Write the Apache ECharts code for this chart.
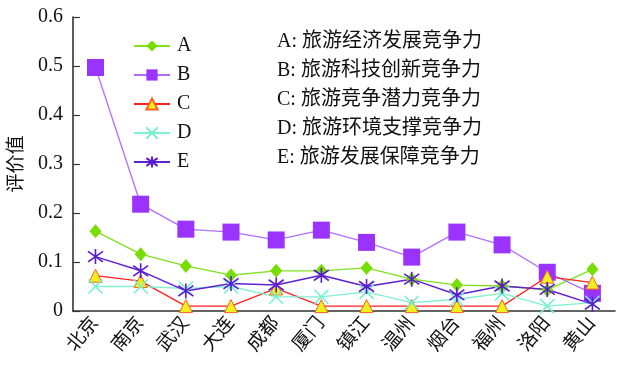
<!DOCTYPE html>
<html><head><meta charset="utf-8">
<script src="https://cdn.jsdelivr.net/npm/echarts@6/dist/echarts.min.js"></script>
<style>html,body{margin:0;padding:0;background:#fff}#c{width:625px;height:368px}</style>
</head><body><div id="c"></div>
<script>
const categories = ['北京','南京','武汉','大连','成都','厦门','镇江','温州','烟台','福州','洛阳','黄山'];
const seriesA = [0.163,0.116,0.092,0.073,0.082,0.082,0.088,0.065,0.053,0.051,0.043,0.085];
const seriesB = [0.497,0.218,0.167,0.161,0.145,0.165,0.140,0.110,0.161,0.135,0.079,0.036];
const seriesC = [0.072,0.061,0.010,0.010,0.046,0.010,0.010,0.010,0.010,0.010,0.070,0.058];
const seriesD = [0.050,0.050,0.046,0.050,0.029,0.029,0.039,0.017,0.024,0.036,0.010,0.017];
const seriesE = [0.111,0.082,0.041,0.056,0.053,0.073,0.050,0.065,0.033,0.051,0.044,0.014];
const seriesNames = ['A','B','C','D','E'];
const descriptions = ['A: 旅游经济发展竞争力','B: 旅游科技创新竞争力','C: 旅游竞争潜力竞争力','D: 旅游环境支撑竞争力','E: 旅游发展保障竞争力'];
const yTicks = ['0','0.1','0.2','0.3','0.4','0.5','0.6'];
const yName = '评价值';

const serif = '"Liberation Serif","Times New Roman","Noto Sans CJK SC",serif';
const chart = echarts.init(document.getElementById('c'));
const crossPath = 'path://M0,0L10,10M10,0L0,10';
const starPath = 'path://M0,1.5L10,8.5M10,1.5L0,8.5M5,0L5,10';
const base = {type:'line', symbolKeepAspect:false, z:2};
const series = [
  Object.assign({}, base, {name:'A', data:seriesA, symbol:'diamond', symbolSize:[12,14],
    lineStyle:{color:'#80e020',width:1.3}, itemStyle:{color:'#78dd00'}}),
  Object.assign({}, base, {name:'B', data:seriesB, symbol:'rect', symbolSize:17,
    lineStyle:{color:'#b070ff',width:1.3}, itemStyle:{color:'#9b33ff'}}),
  Object.assign({}, base, {name:'C', data:seriesC, symbol:'triangle', symbolSize:[13,13],
    lineStyle:{color:'#ff2020',width:1.3}, itemStyle:{color:'#f0f020',borderColor:'#ff6020',borderWidth:1}}),
  Object.assign({}, base, {name:'D', data:seriesD, symbol:crossPath, symbolSize:14,
    lineStyle:{color:'#7ff0d0',width:1.3}, itemStyle:{color:'none',borderColor:'#70f0d0',borderWidth:1.5}}),
  Object.assign({}, base, {name:'E', data:seriesE, symbol:starPath, symbolSize:15,
    lineStyle:{color:'#6020d0',width:1.5}, itemStyle:{color:'none',borderColor:'#5a1ad0',borderWidth:1.6}})
];
const graphics = descriptions.map((t,i)=>({
  type:'text', left:277, top:32 + i*29,
  style:{text:t, font:'20px '+serif, fill:'#111'}
}));
chart.setOption({
  animation:false,
  backgroundColor:'#fff',
  grid:{left:62, right:10, top:17, bottom:57, containLabel:false},
  legend:{
    orient:'vertical', left:128, top:31, itemWidth:36, itemHeight:14, itemGap:9,
    data:seriesNames, textStyle:{fontFamily:serif, fontSize:20, color:'#111', padding:[0,0,0,2]},
    selectedMode:false
  },
  graphic:graphics,
  xAxis:{
    type:'category', data:categories, boundaryGap:true,
    axisLine:{lineStyle:{color:'#333',width:1.6}},
    axisTick:{inside:true, length:7, lineStyle:{color:'#333',width:1.2}},
    axisLabel:{rotate:50, interval:0, fontFamily:serif, fontSize:19, color:'#111', margin:9}
  },
  yAxis:{
    type:'value', min:0, max:0.6, interval:0.1,
    name:yName, nameLocation:'middle', nameGap:40, nameRotate:90,
    nameTextStyle:{fontFamily:serif, fontSize:19, color:'#111'},
    axisLine:{show:true, lineStyle:{color:'#333',width:1.6}},
    axisTick:{show:true, inside:true, length:7, lineStyle:{color:'#333',width:1.2}},
    axisLabel:{fontFamily:serif, fontSize:20, color:'#111', margin:10,
      formatter:(v)=>yTicks[Math.round(v*10)]},
    splitLine:{show:false}
  },
  series:series
});
</script></body></html>
